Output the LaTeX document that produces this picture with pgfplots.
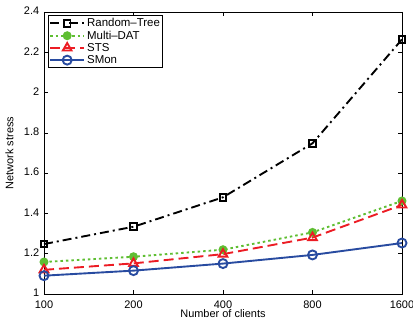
\documentclass[border=0pt]{standalone}
\usepackage{pgfplots}
\pgfplotsset{compat=1.18}
\usepackage{fontspec}
\setmainfont{Liberation Sans}
\definecolor{cgreen}{RGB}{95,190,50}
\definecolor{cred}{RGB}{236,28,36}
\definecolor{cblue}{RGB}{40,75,160}
\begin{document}
\fontsize{11}{13}\selectfont
\begin{tikzpicture}
\begin{axis}[
  width=358bp, height=282bp, scale only axis,
  xmin=0, xmax=4, ymin=1, ymax=2.4,
  xtick={0,1,2,3,4}, xticklabels={100,200,400,800,1600},
  ytick={1,1.2,1.4,1.6,1.8,2,2.2,2.4},
  tick align=inside, tick pos=both,
  major tick length=4bp,
  axis line style={line width=0.9pt},
  tick style={line width=0.7pt, black},
  /pgf/number format/assume math mode=true,
  tick label style={font=\fontsize{11}{13}\selectfont},
  label style={font=\fontsize{11}{13}\selectfont},
  xticklabel style={yshift=-2.5bp},
  yticklabel style={xshift=-1bp, yshift=1bp},
  xlabel={Number of clients}, ylabel={Network stress},
  xlabel style={yshift=6bp}, ylabel style={yshift=3bp},
  legend style={font=\fontsize{11.5}{13}\selectfont, draw=black, line width=0.9pt, inner sep=0.5pt, row sep=-1.5pt, at={(0.012,0.988)}, anchor=north west,
    legend image code/.code={\draw[mark repeat=2,mark phase=2] plot coordinates {(0bp,0bp) (17bp,0bp) (34bp,0bp)};}},
  legend cell align=left,
]
\addplot[black, line width=1.9pt, dash pattern=on 9bp off 4bp on 2bp off 4bp, mark=square, mark size=3.3bp, mark options={solid, line width=1.9pt}] coordinates {(0,1.248) (1,1.334) (2,1.48) (3,1.748) (4,2.264)};
\addlegendentry{Random--Tree}
\addplot[cgreen, line width=1.9pt, dash pattern=on 2.5bp off 3bp, mark=*, mark size=3.5bp, mark options={solid}] coordinates {(0,1.159) (1,1.185) (2,1.22) (3,1.306) (4,1.462)};
\addlegendentry{Multi--DAT}
\addplot[cred, line width=1.9pt, dash pattern=on 10bp off 5bp, mark=triangle, mark size=5bp, mark options={solid, line width=1.9pt}] coordinates {(0,1.12) (1,1.152) (2,1.198) (3,1.28) (4,1.442)};
\addlegendentry{STS}
\addplot[cblue, line width=1.9pt, solid, mark=o, mark size=4.5bp, mark options={solid, line width=1.9pt}] coordinates {(0,1.091) (1,1.116) (2,1.151) (3,1.194) (4,1.253)};
\addlegendentry{SMon}
\end{axis}
\pgfresetboundingbox
\path ([shift={(-44bp,-33bp)}]current axis.south west) rectangle ([shift={(11bp,12bp)}]current axis.north east);
\end{tikzpicture}
\end{document}
